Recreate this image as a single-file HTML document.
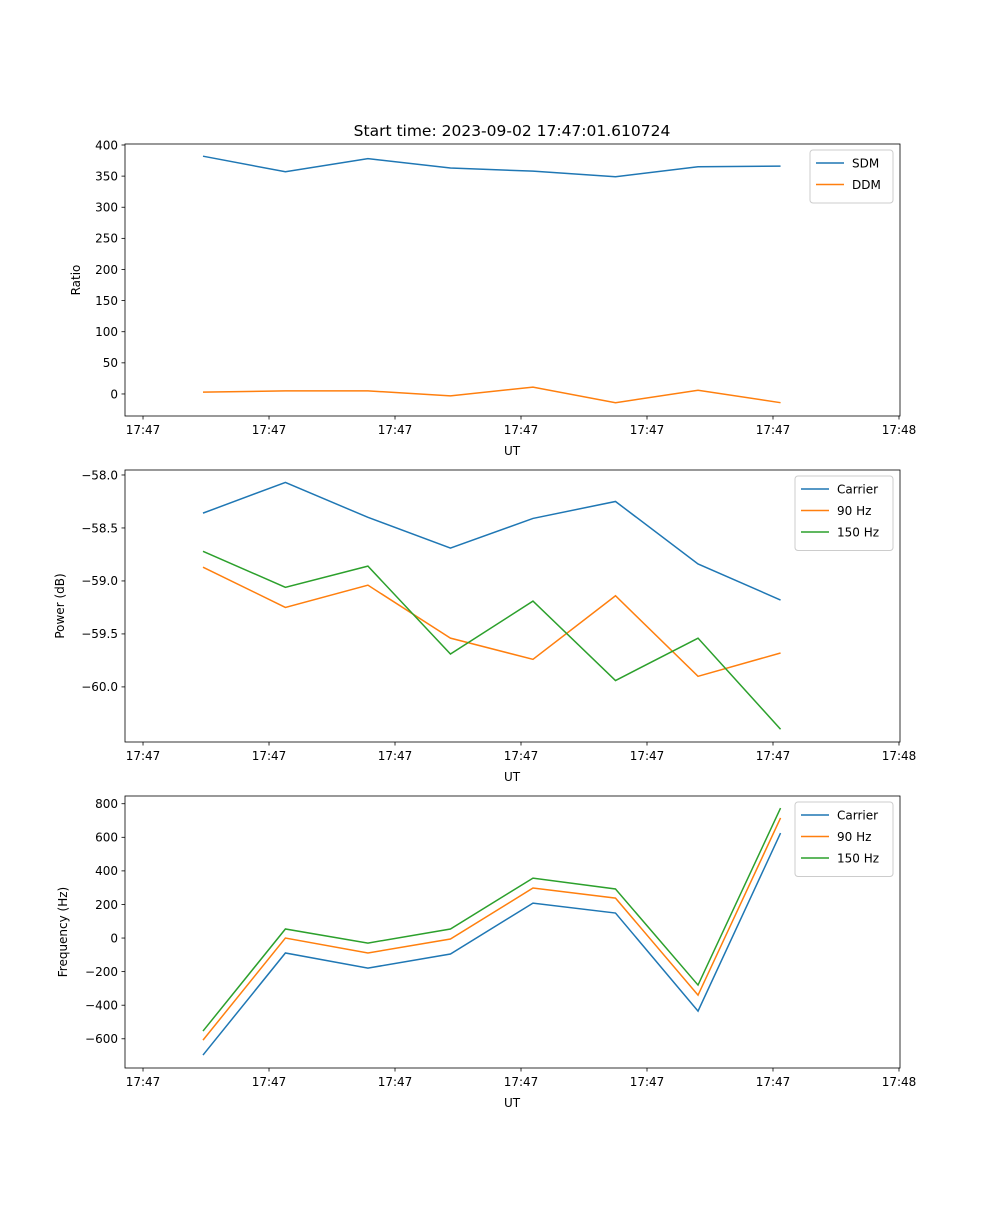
<!DOCTYPE html>
<html><head><meta charset="utf-8">
<style>
body{margin:0;background:#fff;}
svg{font-family:"DejaVu Sans","Liberation Sans",sans-serif;}
</style></head>
<body>
<svg id="fig" width="1000" height="1200" viewBox="0 0 1000 1200" xmlns="http://www.w3.org/2000/svg">
<rect width="1000" height="1200" fill="#fff"/>
<text x="512" y="136" font-size="15.5" text-anchor="middle">Start time: 2023-09-02 17:47:01.610724</text>
</svg>
<script>
// shared x data (seconds after 17:47:00)
const times = [4.76, 11.3, 17.85, 24.4, 30.95, 37.5, 44.05, 50.6];
const xTickVals = [0, 10, 20, 30, 40, 50, 60];
const xTickLabels = ["17:47","17:47","17:47","17:47","17:47","17:47","17:48"];
// panel 1
const sdm = [382, 357, 378, 363, 358, 349, 365, 366];
const ddm = [3, 5, 5, -3, 11, -14, 6, -14];
const p1Ticks = [0, 50, 100, 150, 200, 250, 300, 350, 400];
// panel 2
const pwrCarrier = [-58.36, -58.07, -58.40, -58.69, -58.41, -58.25, -58.84, -59.18];
const pwr90 = [-58.87, -59.25, -59.04, -59.54, -59.74, -59.14, -59.90, -59.68];
const pwr150 = [-58.72, -59.06, -58.86, -59.69, -59.19, -59.94, -59.54, -60.40];
const p2Ticks = [-60.0, -59.5, -59.0, -58.5, -58.0];
// panel 3
const frqCarrier = [-697, -89, -179, -95, 208, 149, -435, 625];
const frq90 = [-608, 0, -89, -6, 298, 238, -340, 715];
const frq150 = [-554, 54, -30, 54, 357, 292, -280, 774];
const p3Ticks = [-600, -400, -200, 0, 200, 400, 600, 800];

const NS = "http://www.w3.org/2000/svg";
const svg = document.getElementById("fig");
const C = ["#1f77b4", "#ff7f0e", "#2ca02c"];
function el(tag, attrs, parent) {
  const e = document.createElementNS(NS, tag);
  for (const k in attrs) e.setAttribute(k, attrs[k]);
  (parent || svg).appendChild(e);
  return e;
}
const L = 125, R = 900, XMIN = -1.43, XMAX = 60.08;
const xs = v => L + (v - XMIN) / (XMAX - XMIN) * (R - L);
function fmt(v, dec) { return (v < 0 ? "\u2212" : "") + Math.abs(v).toFixed(dec); }

function panel(name, top, bot, ymin, ymax, yticks, dec, ylabel, series, names, legend) {
  const g = el("g", {});
  
  
  const ys = v => bot - (v - ymin) / (ymax - ymin) * (bot - top);
  series.forEach((s, i) => {
    const p = el("polyline", {points: s.map((v, j) => xs(times[j]) + "," + ys(v)).join(" "), fill: "none", stroke: C[i], "stroke-width": 1.5}, g);
    
    
  });
  const frame = el("rect", {x: L, y: top, width: R - L, height: bot - top, fill: "none", stroke: "#000", "stroke-width": 0.8}, g);
  
  
  xTickVals.forEach((v, i) => {
    const x = xs(v);
    el("line", {x1: x, x2: x, y1: bot, y2: bot + 3.5, stroke: "#000", "stroke-width": 0.8}, g);
    const t = el("text", {x: x, y: bot + 18, "font-size": 12, "text-anchor": "middle"}, g);
    t.textContent = xTickLabels[i];
    
    
  });
  yticks.forEach(v => {
    const y = ys(v);
    el("line", {x1: L - 3.5, x2: L, y1: y, y2: y, stroke: "#000", "stroke-width": 0.8}, g);
    const t = el("text", {x: L - 7, y: y + 4.3, "font-size": 12, "text-anchor": "end"}, g);
    t.textContent = fmt(v, dec);
    
    
  });
  const xl = el("text", {x: 512, y: bot + 39, "font-size": 12, "text-anchor": "middle"}, g);
  xl.textContent = "UT";
  
  
  const cy = (top + bot) / 2;
  const yl = el("text", {x: 0, y: 0, "font-size": 12, "text-anchor": "middle", transform: `translate(${legend.yx},${cy}) rotate(-90)`}, g);
  yl.textContent = ylabel;
  
  
  const lg = el("g", {}, g);
  
  
  el("rect", {x: legend.x, y: top + 6, width: 893 - legend.x, height: 10 + 21.5 * names.length, rx: 3, fill: "#fff", stroke: "#ccc", "stroke-width": 1}, lg);
  names.forEach((n, i) => {
    const y = top + 19 + 21.5 * i;
    el("line", {x1: legend.x + 6, x2: legend.x + 34, y1: y, y2: y, stroke: C[i], "stroke-width": 1.5}, lg);
    const t = el("text", {x: legend.x + 42, y: y + 4.5, "font-size": 12}, lg);
    t.textContent = n;
    
    
  });
}
panel("ratio-panel", 144, 416, -35.4, 401.6, p1Ticks, 0, "Ratio", [sdm, ddm], ["SDM", "DDM"], {x: 810, yx: 80});
panel("power-panel", 470, 742, -60.52, -57.953, p2Ticks, 1, "Power (dB)", [pwrCarrier, pwr90, pwr150], ["Carrier", "90 Hz", "150 Hz"], {x: 795, yx: 64});
panel("frequency-panel", 796, 1068, -774, 846, p3Ticks, 0, "Frequency (Hz)", [frqCarrier, frq90, frq150], ["Carrier", "90 Hz", "150 Hz"], {x: 795, yx: 67});
</script>
</body></html>
